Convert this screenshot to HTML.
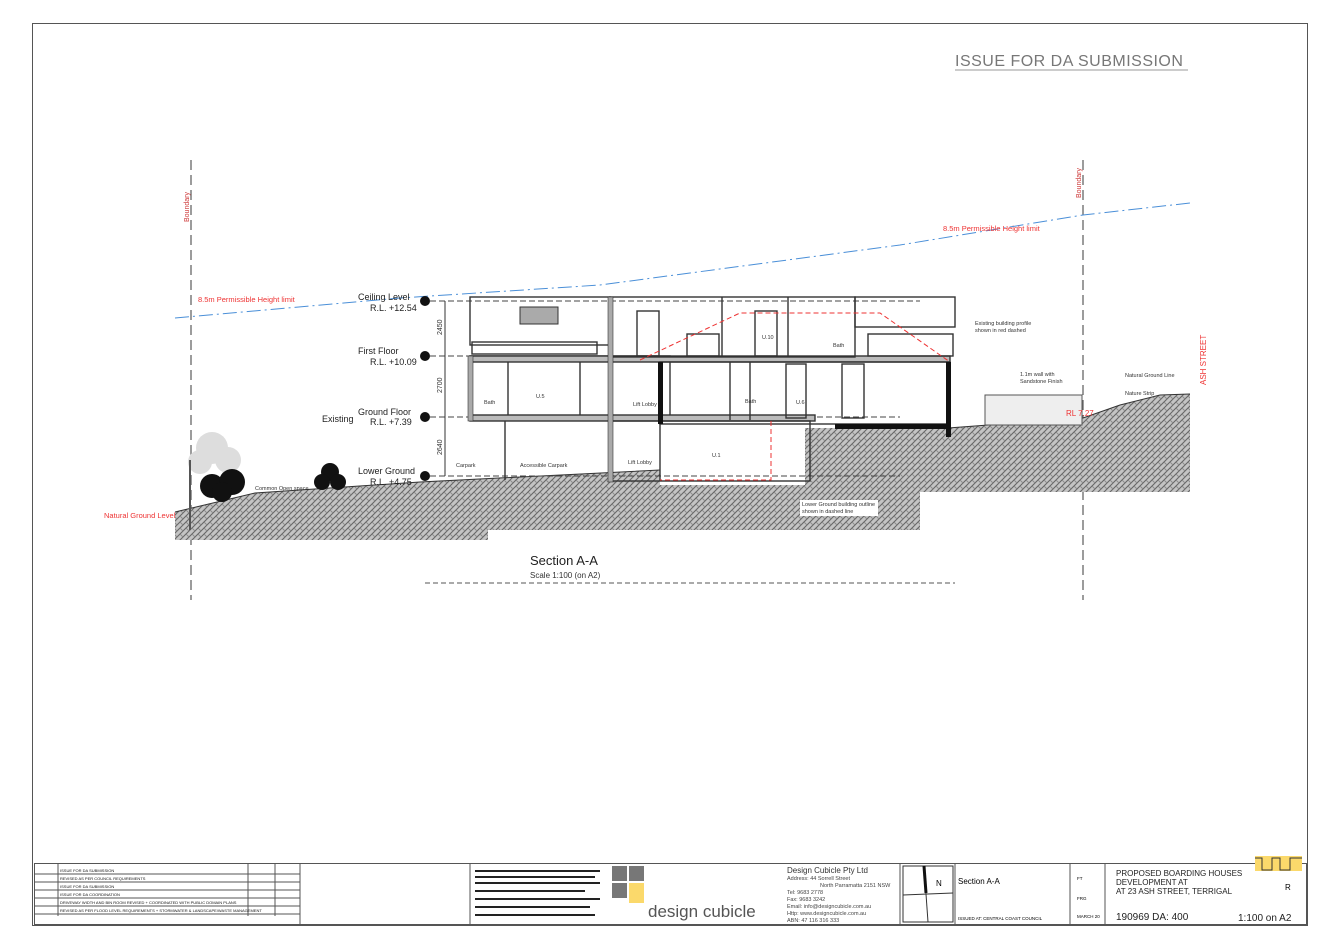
<!DOCTYPE html>
<html><head><meta charset="utf-8"><style>
html,body{margin:0;padding:0;background:#fff}
svg{display:block}
text{font-family:"Liberation Sans",sans-serif}
</style></head><body>
<svg width="1338" height="946" viewBox="0 0 1338 946" xmlns="http://www.w3.org/2000/svg">
<defs>
<pattern id="h" width="6" height="6" patternUnits="userSpaceOnUse">
<rect width="6" height="6" fill="#c4c4c4"/>
<path d="M0 6L6 0M-1 1L1 -1M5 7L7 5" stroke="#666" stroke-width="1.1"/>
<path d="M0 0L3 3" stroke="#888" stroke-width="0.9"/>
</pattern>
</defs>
<rect x="32.5" y="23.5" width="1275" height="902" fill="none" stroke="#555"/>
<text x="955" y="66" font-size="16" fill="#777" letter-spacing="0.5">ISSUE FOR DA SUBMISSION</text>
<line x1="955" y1="70" x2="1188" y2="70" stroke="#999"/>

<line x1="191" y1="160" x2="191" y2="600" stroke="#666" stroke-dasharray="10,5" stroke-width="1.3"/>
<line x1="1083" y1="160" x2="1083" y2="600" stroke="#666" stroke-dasharray="10,5" stroke-width="1.3"/>
<text transform="translate(189,222) rotate(-90)" font-size="7" fill="#c33">Boundary</text>
<text transform="translate(1081,198) rotate(-90)" font-size="7" fill="#c33">Boundary</text>
<text transform="translate(1206,385) rotate(-90)" font-size="8" fill="#e33">ASH   STREET</text>

<polyline points="175,318 400,298 600,285 900,245 1083,215 1190,203" fill="none" stroke="#4a8fd8" stroke-dasharray="14,4,2,4" stroke-width="1"/>
<text x="198" y="302" font-size="7.5" fill="#e33">8.5m Permissible Height limit</text>
<text x="943" y="231" font-size="7.5" fill="#e33">8.5m Permissible Height limit</text>

<path d="M175,540 L175,512 L255,493 L420,482 L660,470 L660,485 L805,485 L805,428 L948,428 L1083,418 L1120,405 L1160,395 L1190,394 L1190,492 L920,492 L920,530 L488,530 L488,540 Z" fill="url(#h)"/>
<polyline points="175,512 255,493 420,482 660,470" fill="none" stroke="#333" stroke-width="1"/>
<polyline points="948,428 1083,418 1120,405 1160,395 1190,394" fill="none" stroke="#333"/>

<g fill="#ddd"><circle cx="212" cy="448" r="16"/><circle cx="200" cy="462" r="12"/><circle cx="228" cy="460" r="13"/></g>
<line x1="190" y1="460" x2="190" y2="530" stroke="#555" stroke-width="2"/>
<g fill="#111"><circle cx="212" cy="486" r="12"/><circle cx="232" cy="482" r="13"/><circle cx="222" cy="492" r="10"/>
<circle cx="330" cy="472" r="9"/><circle cx="322" cy="482" r="8"/><circle cx="338" cy="482" r="8"/></g>

<g font-size="9" fill="#222">
<text x="358" y="300">Ceiling Level</text><text x="370" y="311">R.L. +12.54</text>
<text x="358" y="354">First Floor</text><text x="370" y="365">R.L. +10.09</text>
<text x="358" y="415">Ground Floor</text><text x="322" y="422">Existing</text><text x="370" y="425">R.L. +7.39</text>
<text x="358" y="474">Lower Ground</text><text x="370" y="485">R.L. +4.75</text>
</g>
<g fill="#111">
<circle cx="425" cy="301" r="5"/><circle cx="425" cy="356" r="5"/><circle cx="425" cy="417" r="5"/><circle cx="425" cy="476" r="5"/>
</g>
<g stroke="#444" stroke-dasharray="6,3">
<line x1="430" y1="301" x2="920" y2="301"/><line x1="430" y1="356" x2="900" y2="356"/>
<line x1="430" y1="417" x2="900" y2="417"/><line x1="430" y1="476" x2="900" y2="476"/>
</g>
<line x1="445" y1="301" x2="445" y2="476" stroke="#333"/>
<g font-size="7" fill="#333"><text transform="translate(442,335) rotate(-90)">2450</text><text transform="translate(442,393) rotate(-90)">2700</text><text transform="translate(442,455) rotate(-90)">2640</text></g>

<g fill="none" stroke="#333" stroke-width="1.4">
<rect x="470" y="356" width="200" height="60"/>
<rect x="470" y="415" width="345" height="6" fill="#bbb"/>
<rect x="470" y="356" width="480" height="6" fill="#bbb"/>
<rect x="470" y="297" width="140" height="48"/>
<rect x="610" y="297" width="245" height="60"/>
<rect x="855" y="297" width="100" height="30"/>
<rect x="610" y="421" width="200" height="60"/>
<rect x="660" y="362" width="290" height="62"/>
<line x1="508" y1="362" x2="508" y2="415"/><line x1="580" y1="362" x2="580" y2="415"/>
<line x1="612" y1="362" x2="612" y2="415"/><line x1="722" y1="297" x2="722" y2="356"/>
<line x1="788" y1="297" x2="788" y2="356"/><line x1="750" y1="362" x2="750" y2="420"/>
<line x1="730" y1="362" x2="730" y2="420"/>
<rect x="637" y="311" width="22" height="45"/><rect x="755" y="311" width="22" height="45"/>
<rect x="786" y="364" width="20" height="54"/><rect x="842" y="364" width="22" height="54"/>
<line x1="505" y1="421" x2="505" y2="480"/><line x1="660" y1="421" x2="660" y2="480"/>
<rect x="472" y="342" width="125" height="12"/>
<rect x="687" y="334" width="32" height="22"/>
<rect x="868" y="334" width="85" height="22"/>
</g>
<rect x="608" y="297" width="5" height="185" fill="#aaa" stroke="#333" stroke-width="0.6"/>
<rect x="468" y="356" width="5" height="65" fill="#aaa" stroke="#333" stroke-width="0.6"/>
<rect x="520" y="307" width="38" height="17" fill="#aaa" stroke="#333"/>
<rect x="658" y="362" width="5" height="62" fill="#111"/>
<rect x="946" y="362" width="5" height="75" fill="#111"/>
<rect x="835" y="424" width="115" height="5" fill="#111"/>
<g stroke="#e33" stroke-dasharray="5,3" fill="none">
<polyline points="640,360 740,313 880,313 950,362"/>
<polyline points="771,421 771,480 660,480"/>
</g>
<rect x="985" y="395" width="97" height="30" fill="#eee" stroke="#555"/>
<g font-size="5.5" fill="#333">
<text x="975" y="325">Existing building profile</text><text x="975" y="332">shown in red dashed</text>
<text x="1020" y="376">1.1m wall with</text><text x="1020" y="383">Sandstone Finish</text>
<text x="1125" y="377">Natural Ground Line</text><text x="1125" y="395">Nature Strip</text>
<rect x="800" y="500" width="78" height="16" fill="#fff"/>
<text x="802" y="506">Lower Ground building outline</text><text x="802" y="513">shown in dashed line</text>
<text x="255" y="490">Common Open space</text>
<text x="536" y="398">U.5</text><text x="484" y="404">Bath</text><text x="633" y="406">Lift Lobby</text>
<text x="762" y="339">U.10</text><text x="833" y="347">Bath</text><text x="745" y="403">Bath</text><text x="796" y="404">U.6</text>
<text x="712" y="457">U.1</text><text x="628" y="464">Lift Lobby</text><text x="456" y="467">Carpark</text><text x="520" y="467">Accessible Carpark</text>
</g>
<text x="1066" y="416" font-size="8" fill="#e33">RL 7.27</text>
<text x="104" y="518" font-size="7.5" fill="#e33">Natural Ground Level</text>

<text x="530" y="565" font-size="13" fill="#222">Section A-A</text>
<text x="530" y="578" font-size="8" fill="#333">Scale 1:100 (on A2)</text>
<line x1="425" y1="583" x2="955" y2="583" stroke="#555" stroke-dasharray="5,3"/>

<g stroke="#555" fill="none">
<rect x="34.5" y="863.5" width="1272" height="61"/>
<line x1="300" y1="864" x2="300" y2="924"/><line x1="470" y1="864" x2="470" y2="924"/>
<line x1="900" y1="864" x2="900" y2="924"/><line x1="955" y1="864" x2="955" y2="924"/>
<line x1="1070" y1="864" x2="1070" y2="924"/><line x1="1105" y1="864" x2="1105" y2="924"/>
<line x1="248" y1="864" x2="248" y2="916"/><line x1="275" y1="864" x2="275" y2="916"/>
<line x1="58" y1="864" x2="58" y2="916"/>
</g>
<g stroke="#555"><line x1="35" y1="874" x2="300" y2="874"/><line x1="35" y1="882" x2="300" y2="882"/><line x1="35" y1="890" x2="300" y2="890"/><line x1="35" y1="898" x2="300" y2="898"/><line x1="35" y1="906" x2="300" y2="906"/><line x1="35" y1="914" x2="300" y2="914"/></g>
<g font-size="4" fill="#111">
<text x="60" y="872">ISSUE FOR DA SUBMISSION</text><text x="60" y="880">REVISED AS PER COUNCIL REQUIREMENTS</text><text x="60" y="888">ISSUE FOR DA SUBMISSION</text><text x="60" y="896">ISSUE FOR DA COORDINATION</text><text x="60" y="904">DRIVEWAY WIDTH AND BIN ROOM REVISED + COORDINATED WITH PUBLIC DOMAIN PLANS</text><text x="60" y="912">REVISED AS PER FLOOD LEVEL REQUIREMENTS + STORMWATER &amp; LANDSCAPE/WASTE MANAGEMENT</text>
</g>
<g fill="#222"><rect x="475" y="870" width="125" height="2"/><rect x="475" y="876" width="120" height="2"/><rect x="475" y="882" width="125" height="2"/><rect x="475" y="890" width="110" height="2"/><rect x="475" y="898" width="125" height="2"/><rect x="475" y="906" width="115" height="2"/><rect x="475" y="914" width="120" height="2"/></g>
<rect x="612" y="866" width="15" height="15" fill="#777"/><rect x="629" y="866" width="15" height="15" fill="#777"/>
<rect x="612" y="883" width="15" height="15" fill="#777"/><rect x="629" y="883" width="15" height="20" fill="#fbd96b"/>
<text x="648" y="917" font-size="17" fill="#555">design cubicle</text>
<text x="787" y="873" font-size="8" fill="#333">Design Cubicle Pty Ltd</text>
<g font-size="5.5" fill="#444"><text x="787" y="880">Address: 44 Sorrell Street</text><text x="820" y="887">North Parramatta 2151 NSW</text><text x="787" y="894">Tel: 9683 2778</text><text x="787" y="901">Fax: 9683 3242</text><text x="787" y="908">Email: info@designcubicle.com.au</text><text x="787" y="915">Http: www.designcubicle.com.au</text><text x="787" y="922">ABN: 47 116 316 333</text></g>
<rect x="903" y="866" width="50" height="56" fill="none" stroke="#333"/>
<line x1="924" y1="866" x2="928" y2="922" stroke="#333"/><line x1="924" y1="866" x2="926" y2="893" stroke="#111" stroke-width="3"/>
<line x1="903" y1="895" x2="953" y2="893" stroke="#333"/>
<text x="936" y="886" font-size="8">N</text>
<text x="958" y="884" font-size="8">Section A-A</text>
<text x="958" y="920" font-size="4.5">ISSUED AT: CENTRAL COAST COUNCIL</text>
<g font-size="4.5"><text x="1077" y="880">FT</text><text x="1077" y="900">FRG</text><text x="1077" y="918">MARCH 20</text></g>
<g font-size="8" fill="#222"><text x="1116" y="876">PROPOSED BOARDING HOUSES</text><text x="1116" y="885">DEVELOPMENT AT</text><text x="1116" y="894">AT 23 ASH STREET, TERRIGAL</text></g>
<text x="1116" y="920" font-size="10" fill="#222">190969 DA: 400</text>
<text x="1238" y="921" font-size="10" fill="#222">1:100 on A2</text>
<text x="1285" y="890" font-size="8">R</text>
<rect x="1255" y="856" width="47" height="15" fill="#fbd96b"/>
<polyline points="1255,858 1262,858 1262,870 1272,870 1272,858 1280,858 1280,870 1290,870 1290,858 1302,858" fill="none" stroke="#333"/>
</svg>
</body></html>
